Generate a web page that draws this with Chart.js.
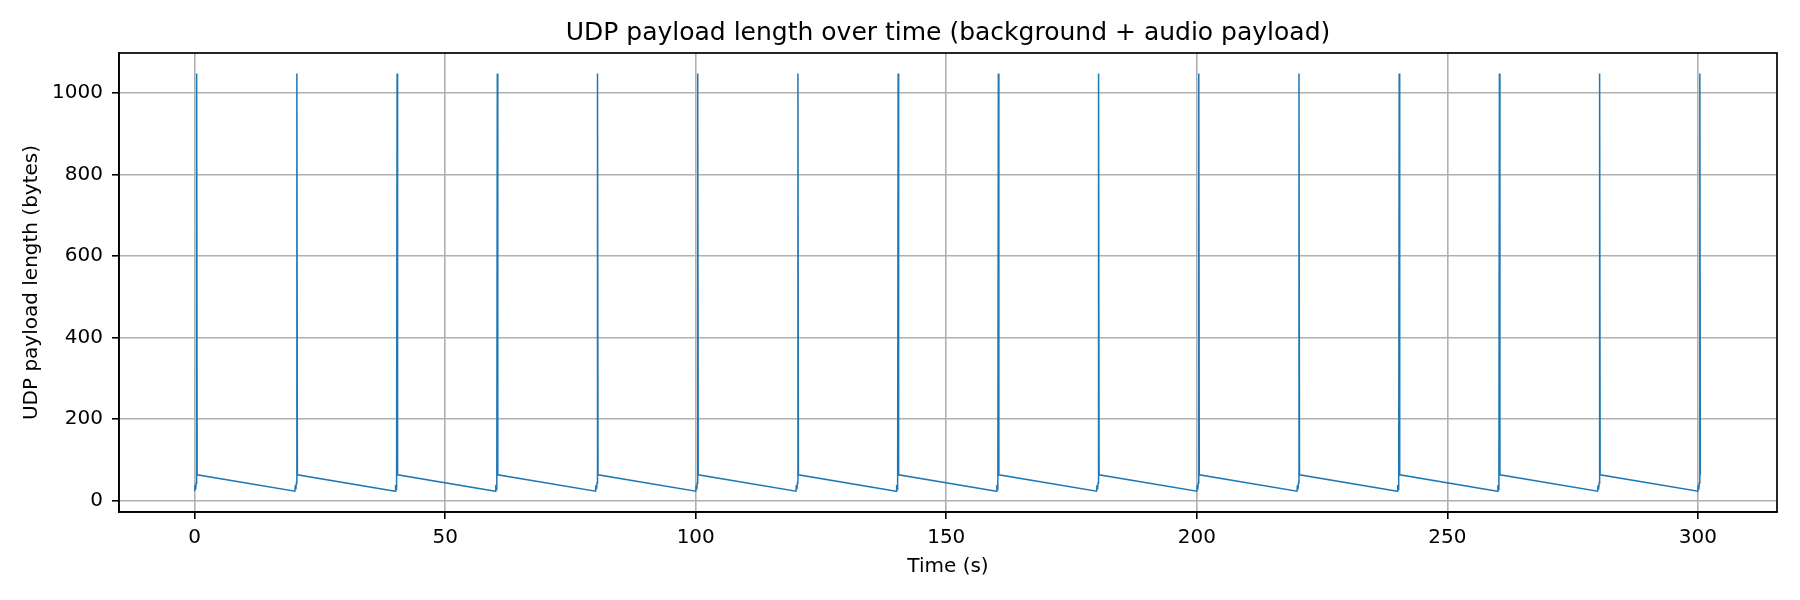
<!DOCTYPE html>
<html>
<head>
<meta charset="utf-8">
<title>UDP payload length over time</title>
<script src="https://cdn.jsdelivr.net/npm/chart.js@4/dist/chart.umd.min.js"></script>
<style>
  body { margin: 0; background: #fff; }
  canvas { display: block; }
</style>
</head>
<body>
<canvas id="myChart" width="1800" height="600"></canvas>
<script>
// packet times (s), one row per 20 s burst
const timeS = [
  0, 0.1, 0.2, 0.3, 0.4, 0.5,
  20, 20.1, 20.2, 20.3, 20.4, 20.5,
  40, 40.1, 40.2, 40.3, 40.4, 40.5,
  60, 60.1, 60.2, 60.3, 60.4, 60.5,
  80, 80.1, 80.2, 80.3, 80.4, 80.5,
  100, 100.1, 100.2, 100.3, 100.4, 100.5,
  120, 120.1, 120.2, 120.3, 120.4, 120.5,
  140, 140.1, 140.2, 140.3, 140.4, 140.5,
  160, 160.1, 160.2, 160.3, 160.4, 160.5,
  180, 180.1, 180.2, 180.3, 180.4, 180.5,
  200, 200.1, 200.2, 200.3, 200.4, 200.5,
  220, 220.1, 220.2, 220.3, 220.4, 220.5,
  240, 240.1, 240.2, 240.3, 240.4, 240.5,
  260, 260.1, 260.2, 260.3, 260.4, 260.5,
  280, 280.1, 280.2, 280.3, 280.4, 280.5,
  300, 300.1, 300.2, 300.3, 300.4, 300.5
]
// UDP payload length (bytes) for each packet above
const payloadBytes = [
  23, 38, 27, 43, 1048, 63,
  23, 38, 27, 43, 1048, 63,
  23, 38, 27, 43, 1048, 63,
  23, 38, 27, 43, 1048, 63,
  23, 38, 27, 43, 1048, 63,
  23, 38, 27, 43, 1048, 63,
  23, 38, 27, 43, 1048, 63,
  23, 38, 27, 43, 1048, 63,
  23, 38, 27, 43, 1048, 63,
  23, 38, 27, 43, 1048, 63,
  23, 38, 27, 43, 1048, 63,
  23, 38, 27, 43, 1048, 63,
  23, 38, 27, 43, 1048, 63,
  23, 38, 27, 43, 1048, 63,
  23, 38, 27, 43, 1048, 63,
  23, 38, 27, 43, 1048, 63
]
const xTicks = [0, 50, 100, 150, 200, 250, 300]
const yTicks = [0, 200, 400, 600, 800, 1000]
const chartTitle = 'UDP payload length over time (background + audio payload)'

const points = timeS.map((t, i) => ({ x: t, y: payloadBytes[i] }))

// top/right spines + title centred over the axes, like matplotlib
const frame = {
  id: 'frame',
  afterDraw(chart) {
    const { ctx, chartArea: a } = chart
    ctx.save()
    ctx.strokeStyle = '#000'
    ctx.lineWidth = 1.7
    ctx.strokeRect(a.left, a.top, a.right - a.left, a.bottom - a.top)
    ctx.fillStyle = '#000'
    ctx.font = "25px 'DejaVu Sans', sans-serif"
    ctx.textAlign = 'center'
    ctx.textBaseline = 'middle'
    ctx.fillText(chartTitle, (a.left + a.right) / 2, 33)
    ctx.restore()
  }
}

Chart.defaults.font.family = "'DejaVu Sans', sans-serif"
Chart.defaults.color = '#000'

new Chart('myChart', {
  type: 'scatter',
  data: {
    datasets: [{
      data: points,
      showLine: true,
      borderColor: '#1f77b4',
      backgroundColor: '#1f77b4',
      borderWidth: 1.5,
      pointRadius: 0,
      tension: 0
    }]
  },
  options: {
    responsive: false,
    devicePixelRatio: 1,
    animation: false,
    layout: { padding: { left: 0, right: 23, top: 53, bottom: 0 } },
    plugins: {
      legend: { display: false },
      tooltip: { enabled: false },
      title: { display: false }
    },
    scales: {
      x: {
        type: 'linear',
        min: -15.1,
        max: 315.8,
        afterBuildTicks: (s) => { s.ticks = xTicks.map(v => ({ value: v })) },
        afterFit: (s) => { s.height = 88 },
        ticks: { font: { size: 20 }, padding: 7, maxRotation: 0, callback: (v) => String(v) },
        grid: { color: '#b0b0b0', lineWidth: 1.6, tickColor: '#000', tickLength: 7, tickWidth: 1.6 },
        border: { color: '#000', width: 1.7 },
        title: { display: true, text: 'Time (s)', font: { size: 20 }, padding: { top: 0, bottom: 21 } }
      },
      y: {
        min: -28.2,
        max: 1098.6,
        afterBuildTicks: (s) => { s.ticks = yTicks.map(v => ({ value: v })) },
        afterFit: (s) => { s.width = 119 },
        ticks: { font: { size: 20 }, padding: 9, callback: (v) => String(v) },
        grid: { color: '#b0b0b0', lineWidth: 1.6, tickColor: '#000', tickLength: 7, tickWidth: 1.6 },
        border: { color: '#000', width: 1.7 },
        title: { display: true, text: 'UDP payload length (bytes)', font: { size: 20 }, padding: { top: 20, bottom: 0 } }
      }
    }
  },
  plugins: [frame]
})
</script>
</body>
</html>
